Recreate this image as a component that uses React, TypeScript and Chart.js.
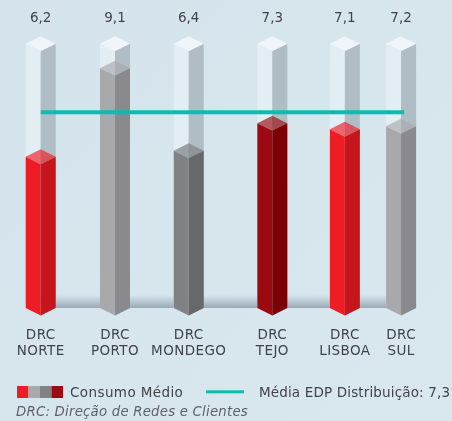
import React, { useEffect, useRef } from "react";
import { Chart, registerables } from "chart.js";

Chart.register(...registerables);

const categories = [["DRC", "NORTE"], ["DRC", "PORTO"], ["DRC", "MONDEGO"], ["DRC", "TEJO"], ["DRC", "LISBOA"], ["DRC", "SUL"]];
const consumo = [6.2, 9.1, 6.4, 7.3, 7.1, 7.2];
const slots = [0, 1.004, 2.0, 3.13, 4.11, 4.87];
const trackTop = [9.9, 9.9, 9.9, 9.9, 9.9, 9.9];
const mediaEdp = 7.3;
const mediaSpan = [0, 4.91];
const legendConsumo = "Consumo Médio";
const legendMedia = "Média EDP Distribuição: 7,3";
const footnote = "DRC: Direção de Redes e Clientes";

const FONT = "'DejaVu Sans'";
const TEXT = "#424349";
const TEAL = "#0cbcb0";
const AXIS_MIN = 1.25;
const faces = [
  { l: "#ee1c25", r: "#c4161c", t: "rgba(238,28,37,0.65)" },
  { l: "#a7a9ac", r: "#8a8a8e", t: "rgba(167,169,172,0.65)" },
  { l: "#808285", r: "#67686a", t: "rgba(128,130,133,0.72)" },
  { l: "#9b0a10", r: "#7a0206", t: "rgba(155,10,16,0.65)" },
  { l: "#ee1c25", r: "#c4161c", t: "rgba(238,28,37,0.65)" },
  { l: "#a7a9ac", r: "#8a8a8e", t: "rgba(167,169,172,0.65)" },
];
const trackFace = { l: "#e3edf4", r: "#b1bdc4", t: "#eff5f9" };
const swatches = [faces[0].l, faces[1].l, faces[2].l, faces[3].l];
const CAP = 7.4;

function poly(ctx: CanvasRenderingContext2D, pts: number[][], fill: string) {
  ctx.fillStyle = fill;
  ctx.beginPath();
  pts.forEach((p, i) => (i ? ctx.lineTo(p[0], p[1]) : ctx.moveTo(p[0], p[1])));
  ctx.closePath();
  ctx.fill();
}

const iso3d = {
  id: "iso3d",
  beforeDraw(chart: any) {
    const { ctx, width, height } = chart;
    const g = ctx.createLinearGradient(0, 0, width, height);
    g.addColorStop(0, "#d5e4ec");
    g.addColorStop(1, "#d9e7ee");
    ctx.fillStyle = g;
    ctx.fillRect(0, 0, width, height);
    (ctx as any).letterSpacing = "0.4px";
  },
  beforeDatasetsDraw(chart: any) {
    const { ctx } = chart;
    const meta = chart.getDatasetMeta(1);
    const first = meta.data[0];
    const last = meta.data[meta.data.length - 1];
    const base = first.base;
    const g = ctx.createLinearGradient(0, base - 13, 0, base);
    g.addColorStop(0, "rgba(154,170,182,0)");
    g.addColorStop(1, "rgba(154,170,182,1)");
    ctx.fillStyle = g;
    ctx.fillRect(first.x, base - 13, last.x - first.x, 13);
  },
  beforeDatasetDraw(chart: any, args: any) {
    if (args.meta.type !== "bar") return;
    const { ctx } = chart;
    const isTrack = args.index === 0;
    args.meta.data.forEach((el: any, i: number) => {
      const { x, y, base, width } = el;
      const a = x - width / 2;
      const b = x + width / 2;
      const c = isTrack ? trackFace : faces[i];
      poly(ctx, [[a, y], [x, y + CAP], [x, base + CAP], [a, base]], c.l);
      poly(ctx, [[x, y + CAP], [b, y], [b, base], [x, base + CAP]], c.r);
      poly(ctx, [[a, y], [x, y - CAP], [b, y], [x, y + CAP]], c.t);
    });
    return false;
  },
  afterDraw(chart: any) {
    const { ctx } = chart;
    const meta = chart.getDatasetMeta(1);
    ctx.save();
    ctx.textBaseline = "middle";
    ctx.fillStyle = TEXT;
    ctx.textAlign = "center";
    ctx.font = `13.5px ${FONT}`;
    (ctx as any).letterSpacing = "0px";
    meta.data.forEach((el: any, i: number) => {
      ctx.fillText(consumo[i].toFixed(1).replace(".", ","), el.x, 18);
    });
    ctx.textAlign = "left";
    swatches.forEach((c, i) => {
      ctx.fillStyle = c;
      ctx.fillRect(17 + i * 11.5, 386, 11.5, 12);
    });
    ctx.fillStyle = TEXT;
    (ctx as any).letterSpacing = "0.4px";
    ctx.fillText(legendConsumo, 70, 393);
    ctx.fillStyle = TEAL;
    ctx.fillRect(206, 390.3, 38, 3);
    ctx.fillStyle = TEXT;
    (ctx as any).letterSpacing = "0.15px";
    ctx.fillText(legendMedia, 259, 393);
    ctx.font = `italic 13.3px ${FONT}`;
    (ctx as any).letterSpacing = "0.22px";
    ctx.fillStyle = "#606167";
    ctx.fillText(footnote, 16, 413);
    ctx.restore();
  },
};

export default function App() {
  const ref = useRef<HTMLCanvasElement>(null);
  useEffect(() => {
    document.body.style.margin = "0";
    const chart = new Chart(ref.current!, {
      type: "bar",
      data: {
        datasets: [
          {
            type: "bar",
            order: 2,
            grouped: false,
            barThickness: 30,
            base: AXIS_MIN,
            backgroundColor: trackFace.l,
            data: slots.map((x, i) => ({ x, y: trackTop[i] })),
          },
          {
            type: "bar",
            order: 1,
            grouped: false,
            barThickness: 30,
            base: AXIS_MIN,
            label: legendConsumo,
            backgroundColor: swatches[0],
            data: slots.map((x, i) => ({ x, y: consumo[i] })),
          },
          {
            type: "line",
            order: 0,
            label: legendMedia,
            yAxisID: "yMedia",
            borderColor: TEAL,
            borderWidth: 4,
            pointRadius: 0,
            data: mediaSpan.map((x) => ({ x, y: mediaEdp })),
          },
        ],
      } as any,
      options: {
        animation: false,
        responsive: false,
        layout: { padding: 0 },
        plugins: { legend: { display: false }, tooltip: { enabled: false } },
        scales: {
          x: {
            type: "linear",
            offset: false,
            bounds: "data",
            min: -0.55,
            max: 5.558,
            grid: { display: false, drawTicks: false },
            border: { display: false },
            afterBuildTicks: (s: any) => {
              s.ticks = slots.map((value) => ({ value }));
            },
            afterFit: (s: any) => {
              s.height = 113;
              s.paddingLeft = 0;
              s.paddingRight = 0;
            },
            ticks: {
              autoSkip: false,
              maxRotation: 0,
              minRotation: 0,
              padding: 19.5,
              color: TEXT,
              font: { family: FONT, size: 13.5, lineHeight: 1.19 },
              callback: (_v: any, i: number) => categories[i],
            },
          },
          y: { type: "linear", display: false, min: AXIS_MIN, max: 11.33, bounds: "data" },
          yMedia: { type: "linear", display: false, min: 0.89, max: 10.97, bounds: "data" },
        },
      } as any,
      plugins: [iso3d],
    });
    return () => chart.destroy();
  }, []);
  return (
    <div style={{ width: 452, height: 421 }}>
      <canvas ref={ref} width={452} height={421} style={{ display: "block" }} />
    </div>
  );
}
